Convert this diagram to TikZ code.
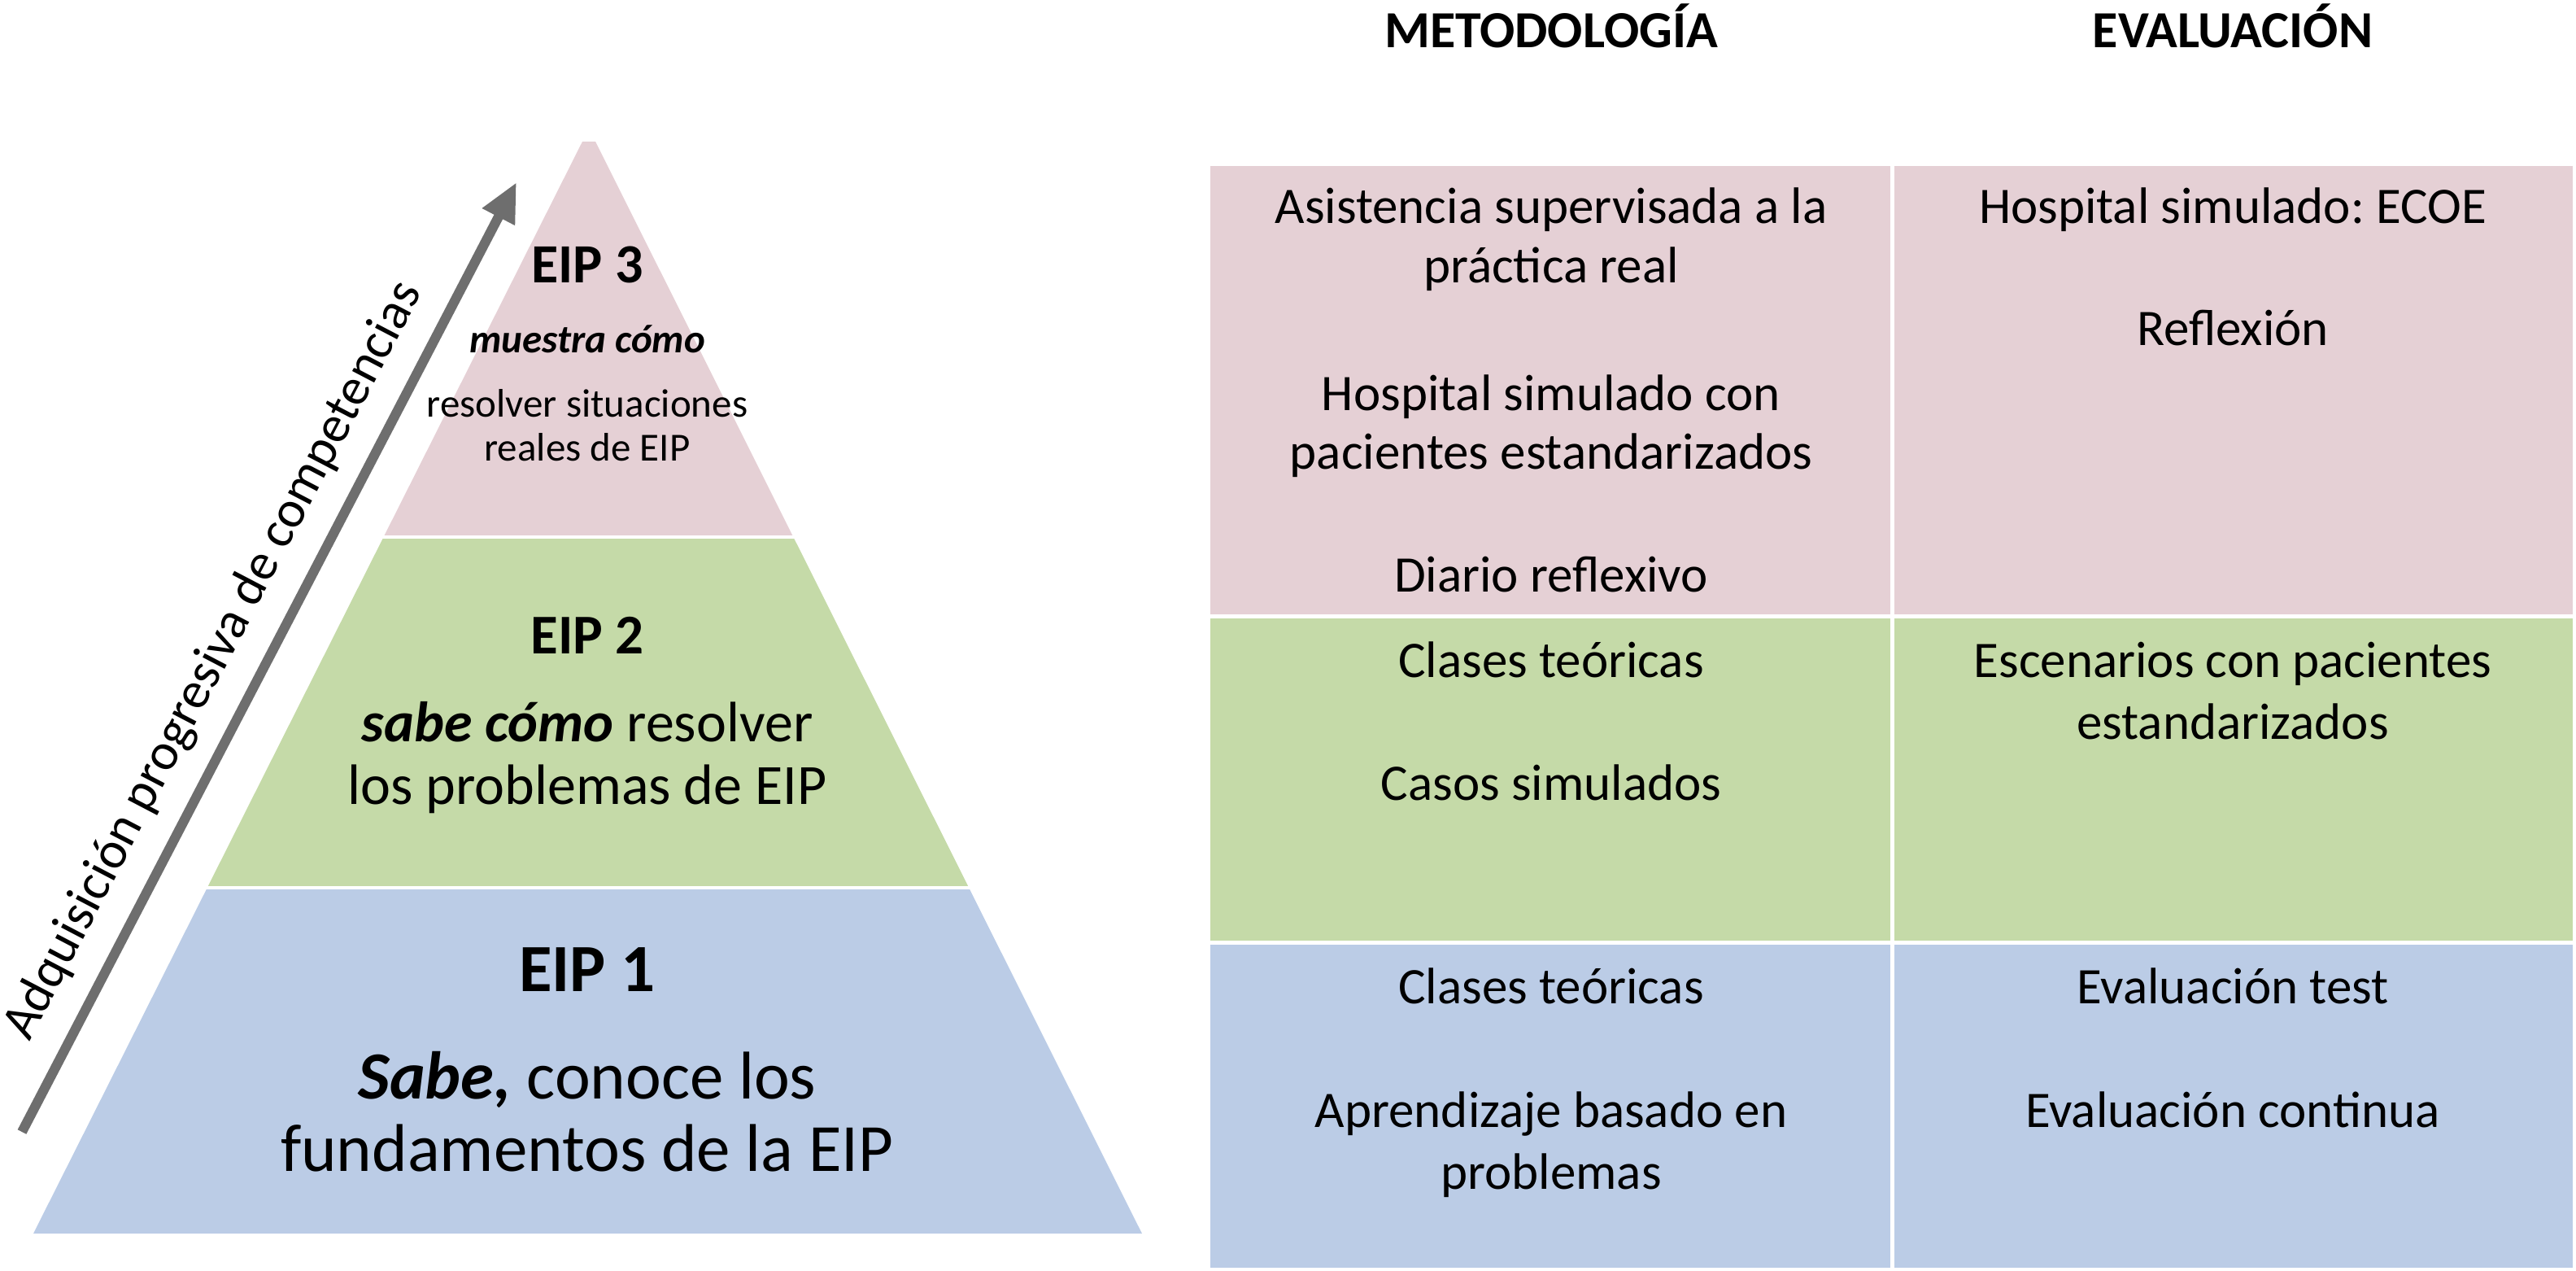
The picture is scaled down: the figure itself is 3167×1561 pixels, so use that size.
\documentclass[tikz,border=0pt]{standalone}
\usepackage{fontspec}
\setmainfont{Carlito}
\usetikzlibrary{arrows.meta}
\definecolor{pinkc}{HTML}{E5D0D5}
\definecolor{greenc}{HTML}{C5DAA8}
\definecolor{bluec}{HTML}{BBCCE6}
\definecolor{arrowgray}{HTML}{6E6E6E}
\newcommand{\myfs}[1]{\fontsize{#1}{#1}\selectfont}
\frenchspacing
\begin{document}
\begin{tikzpicture}[x=1pt,y=-1pt,
  cell/.style={anchor=base, inner sep=0pt, font=\myfs{63}},
  head/.style={anchor=base, inner sep=0pt, font=\myfs{64}\bfseries},
  psmall/.style={anchor=base, inner sep=0pt, font=\myfs{49}},
  pmid/.style={anchor=base, inner sep=0pt, font=\myfs{70}},
  pbig/.style={anchor=base, inner sep=0pt, font=\myfs{83}},
  sep/.style={white, line width=5pt},
  progress/.style={arrowgray, line width=12pt, -{Triangle[length=48pt,width=42pt]}}
]
\useasboundingbox (0,0) rectangle (3167,1561);

% ---------------- pyramid ----------------
\begin{scope}
  \clip (41,1516) -- (716,174) -- (732,174) -- (1404,1516) -- cycle;
  \fill[pinkc]  (0,150)  rectangle (1500,658);
  \fill[greenc] (0,662)  rectangle (1500,1089);
  \fill[bluec]  (0,1093) rectangle (1500,1516);
\end{scope}

\node[pmid, font=\myfs{68}\bfseries] (eip3) at (722,347) {EIP 3};
\node[psmall, font=\myfs{49}\bfseries\itshape] (eip3a) at (722,433) {muestra cómo};
\node[psmall] (eip3b) at (722,512) {resolver situaciones};
\node[psmall] (eip3c) at (722,566) {reales de EIP};

\node[pmid, font=\myfs{69}\bfseries] (eip2) at (722,803) {EIP 2};
\node[pmid] (eip2a) at (722,911) {\textbf{\textit{sabe cómo}} resolver};
\node[pmid] (eip2b) at (722,988) {los problemas de EIP};

\node[pbig, font=\myfs{83}\bfseries] (eip1) at (722,1218) {EIP 1};
\node[pbig] (eip1a) at (722,1350) {\textbf{\textit{Sabe,}} conoce los};
\node[pbig] (eip1b) at (722,1439) {fundamentos de la EIP};

% ---------------- progression arrow ----------------
\coordinate (arrtail) at (27,1391);
\coordinate (arrtip) at (635,224);
\draw[progress] (arrtail) -- (arrtip);
\node[inner sep=0pt, font=\myfs{64}, rotate=62.4] (prog) at (263,812)
  {Adquisición progresiva de competencias};

% ---------------- table ----------------
\fill[pinkc]  (1488,204)  rectangle (3163,757);
\fill[greenc] (1488,757)  rectangle (3163,1158);
\fill[bluec]  (1488,1158) rectangle (3163,1558);
\draw[sep] (1486,757) -- (3165,757);
\draw[sep] (1486,1158) -- (3165,1158);
\draw[sep] (2326,202) -- (2326,1560);

\node[head] (hmet) at (1907,58) {METODOLOGÍA};
\node[head] (heva) at (2745,58) {EVALUACIÓN};

% methodology column
\node[cell] (m1) at (1907,274) {Asistencia supervisada a la};
\node[cell] (m2) at (1907,347) {práctica real};
\node[cell] (m3) at (1907,504) {Hospital simulado con};
\node[cell] (m4) at (1907,576) {pacientes estandarizados};
\node[cell] (m5) at (1907,727) {Diario reflexivo};
\node[cell] (m6) at (1907,832) {Clases teóricas};
\node[cell] (m7) at (1907,983) {Casos simulados};
\node[cell] (m8) at (1907,1233) {Clases teóricas};
\node[cell] (m9) at (1907,1385) {Aprendizaje basado en};
\node[cell] (m10) at (1907,1461) {problemas};

% evaluation column
\node[cell] (e1) at (2745,274) {Hospital simulado: ECOE};
\node[cell] (e2) at (2745,424) {Reflexión};
\node[cell] (e3) at (2745,832) {Escenarios con pacientes};
\node[cell] (e4) at (2745,908) {estandarizados};
\node[cell] (e5) at (2745,1233) {Evaluación test};
\node[cell] (e6) at (2745,1385) {Evaluación continua};
\end{tikzpicture}
\end{document}
